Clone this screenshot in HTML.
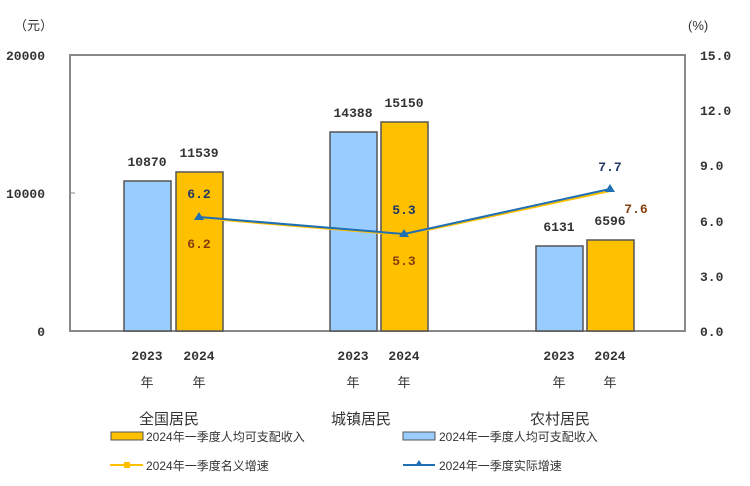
<!DOCTYPE html>
<html><head><meta charset="utf-8"><style>
body{margin:0;background:#fff;}
svg{display:block;}
text{font-family:"Liberation Mono","Noto Sans CJK SC",monospace;font-size:13px;fill:#333;}
.c{font-family:"Liberation Sans","Noto Sans CJK SC",sans-serif;}
</style></head><body>
<svg width="750" height="486" viewBox="0 0 750 486">
<text x="14" y="30" class="c" font-size="12">（元）</text>
<text x="688" y="30" class="c" font-size="12">(%)</text>
<g font-weight="bold">
<text x="45" y="60" text-anchor="end" style="font-weight:bold">20000</text>
<text x="45" y="198" text-anchor="end" style="font-weight:bold">10000</text>
<text x="45" y="336" text-anchor="end" style="font-weight:bold">0</text>
<g style="font-weight:bold" text-anchor="start">
<text x="700" y="60">15.0</text><text x="700" y="115">12.0</text><text x="700" y="170">9.0</text>
<text x="700" y="226">6.0</text><text x="700" y="281">3.0</text><text x="700" y="336">0.0</text></g>
</g>
<rect x="70" y="55" width="615" height="276" fill="none" stroke="#888" stroke-width="2"/>
<line x1="70" y1="193" x2="75" y2="193" stroke="#888"/>
<g stroke="#555" stroke-width="1.5">
<rect x="124" y="181" width="47" height="150" fill="#99ccff"/>
<rect x="176" y="172" width="47" height="159" fill="#ffc000"/>
<rect x="330" y="132" width="47" height="199" fill="#99ccff"/>
<rect x="381" y="122" width="47" height="209" fill="#ffc000"/>
<rect x="536" y="246" width="47" height="85" fill="#99ccff"/>
<rect x="587" y="240" width="47" height="91" fill="#ffc000"/>
</g>
<g style="font-weight:bold" text-anchor="middle">
<text x="147" y="166">10870</text><text x="199" y="157">11539</text>
<text x="353" y="117">14388</text><text x="404" y="107">15150</text>
<text x="559" y="231">6131</text><text x="610" y="225">6596</text>
</g>
<polyline points="199,218 404,235 610,191" fill="none" stroke="#ffc000" stroke-width="2"/>
<polyline points="199,217 404,234 610,189" fill="none" stroke="#1f6fb4" stroke-width="2"/>
<g fill="#1f6fb4"><path d="M199,212 l5,8 h-10z"/><path d="M404,229 l5,8 h-10z"/><path d="M610,184 l5,8 h-10z"/></g>
<g font-size="15" style="font-weight:bold;font-size:15px" text-anchor="middle">
<text x="199" y="198" style="fill:#1f3864">6.2</text><text x="199" y="248" style="fill:#843c0c">6.2</text>
<text x="404" y="214" style="fill:#1f3864">5.3</text><text x="404" y="265" style="fill:#843c0c">5.3</text>
<text x="610" y="171" style="fill:#1f3864">7.7</text><text x="636" y="213" style="fill:#843c0c">7.6</text>
</g>
<g text-anchor="middle" style="font-weight:bold">
<text x="147" y="360">2023</text><text x="199" y="360">2024</text>
<text x="353" y="360">2023</text><text x="404" y="360">2024</text>
<text x="559" y="360">2023</text><text x="610" y="360">2024</text>
</g>
<g text-anchor="middle" class="c" font-size="13">
<text x="147" y="387" class="c">年</text><text x="199" y="387" class="c">年</text>
<text x="353" y="387" class="c">年</text><text x="404" y="387" class="c">年</text>
<text x="559" y="387" class="c">年</text><text x="610" y="387" class="c">年</text>
<text x="169" y="424" class="c" font-size="15" style="font-size:15px">全国居民</text>
<text x="361" y="424" class="c" style="font-size:15px">城镇居民</text>
<text x="560" y="424" class="c" style="font-size:15px">农村居民</text>
</g>
<rect x="111" y="432" width="32" height="8" fill="#ffc000" stroke="#555"/>
<text x="146" y="441" class="c" style="font-size:12px">2024年一季度人均可支配收入</text>
<rect x="403" y="432" width="32" height="8" fill="#99ccff" stroke="#555"/>
<text x="439" y="441" class="c" style="font-size:12px">2024年一季度人均可支配收入</text>
<line x1="110" y1="465" x2="143" y2="465" stroke="#ffc000" stroke-width="2"/>
<rect x="124" y="462" width="6" height="6" fill="#ffc000"/>
<text x="146" y="470" class="c" style="font-size:12px">2024年一季度名义增速</text>
<line x1="403" y1="465" x2="435" y2="465" stroke="#1f6fb4" stroke-width="2"/>
<path d="M419,460 l4,6 h-8z" fill="#1f6fb4"/>
<text x="439" y="470" class="c" style="font-size:12px">2024年一季度实际增速</text>
</svg>
</body></html>
